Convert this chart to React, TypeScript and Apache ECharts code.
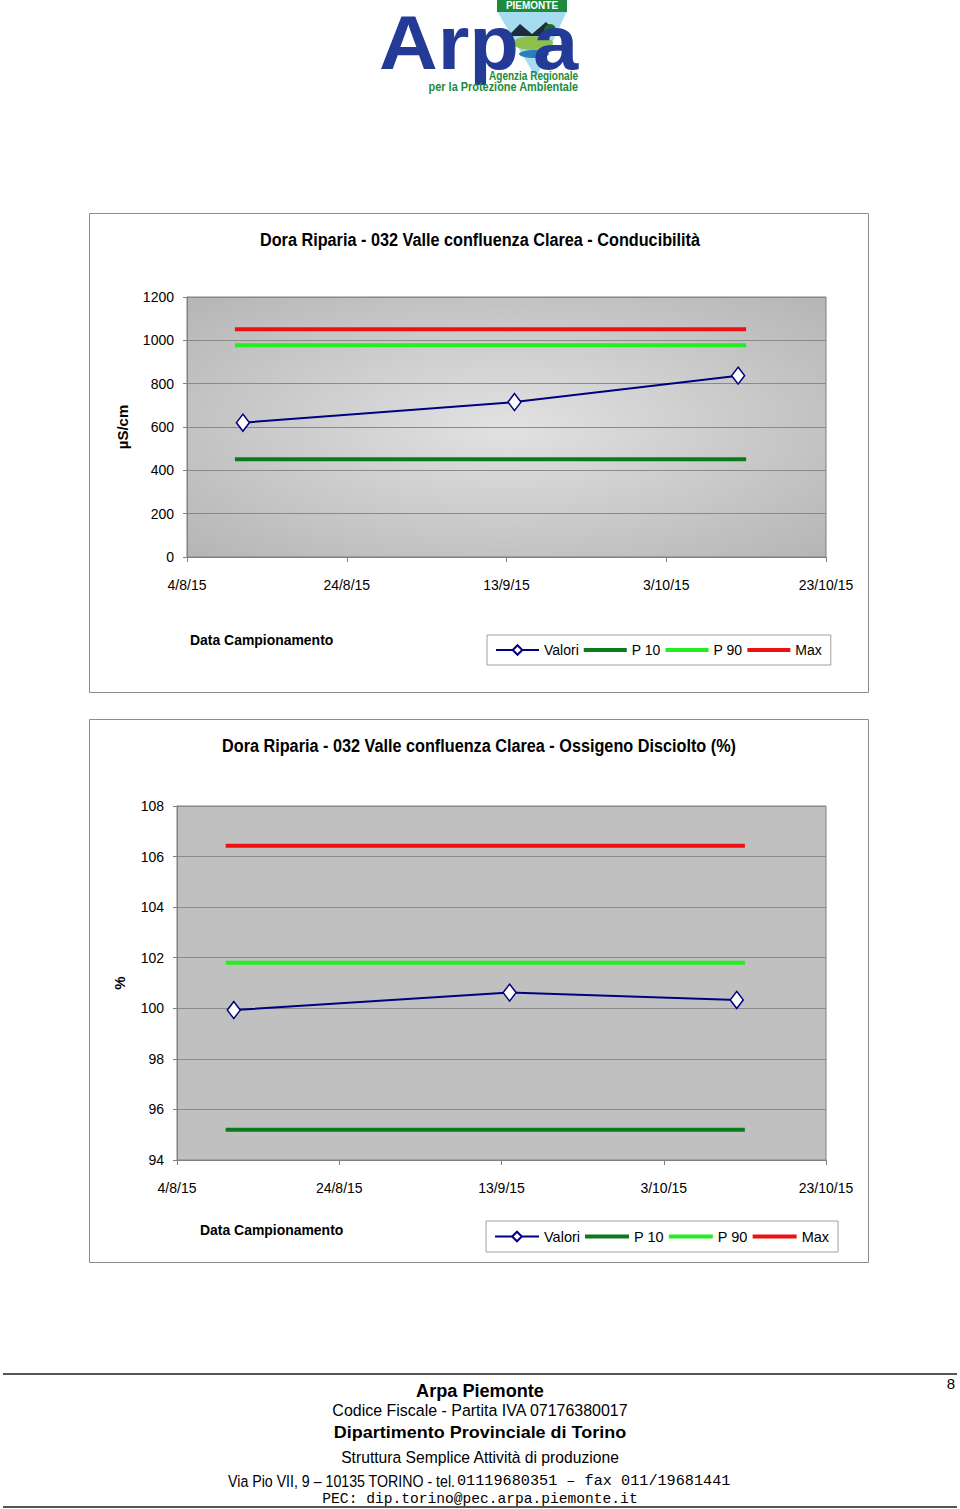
import React, { useEffect, useRef } from "react";
import * as echarts from "echarts";

// ---------- data ----------
const axisStart = "2015-08-04";
const axisEnd = "2015-10-23";
const tickDays = 20;

const sampleDates = ["2015-08-11", "2015-09-14", "2015-10-12"];
const refDates = ["2015-08-10", "2015-10-13"];

const condTitle = "Dora Riparia - 032 Valle confluenza Clarea - Conducibilità";
const condUnit = "µS/cm";
const condValori = [620, 715, 837];
const condP10 = 451;
const condP90 = 977;
const condMax = 1051;
const condYTicks = { min: 0, max: 1200, step: 200 };

const oxTitle = "Dora Riparia - 032 Valle confluenza Clarea - Ossigeno Disciolto (%)";
const oxUnit = "%";
const oxValori = [99.93, 100.62, 100.33];
const oxP10 = 95.2;
const oxP90 = 101.8;
const oxMax = 106.43;
const oxYTicks = { min: 94, max: 108, step: 2 };

const legendNames = ["Valori", "P 10", "P 90", "Max"];
const xAxisName = "Data Campionamento";

const footerLines = [
  "Arpa Piemonte",
  "Codice Fiscale - Partita IVA 07176380017",
  "Dipartimento Provinciale di Torino",
  "Struttura Semplice Attività di produzione",
];
const footerAddrA = "Via Pio VII, 9 – 10135 TORINO - tel.";
const footerAddrB = "01119680351 – fax 011/19681441";
const footerPec = "PEC: dip.torino@pec.arpa.piemonte.it";
const pageNumber = "8";

// ---------- helpers ----------
const DAY = 86400000;
const startMs = Date.parse(axisStart + "T00:00:00Z");
const dayOffset = (d: string) => (Date.parse(d + "T00:00:00Z") - startMs) / DAY;
const fmtDate = (v: number) => {
  const dt = new Date(startMs + v * DAY);
  return `${dt.getUTCDate()}/${dt.getUTCMonth() + 1}/${String(dt.getUTCFullYear()).slice(2)}`;
};

const SANS = "'Liberation Sans', Arial, sans-serif";
const MONO = "'Liberation Mono', 'DejaVu Sans Mono', monospace";

const NAVY = "#000080";
const DKGREEN = "#0c7a1c";
const LTGREEN = "#22ee22";
const RED = "#ee1111";

function buildSeries(idx: number, valori: number[], p10: number, p90: number, max: number) {
  const ref = (v: number) => refDates.map((d) => [dayOffset(d), v]);
  const refSeries = (name: string, color: string, v: number) => ({
    name,
    type: "line",
    xAxisIndex: idx,
    yAxisIndex: idx,
    data: ref(v),
    symbol: "none",
    color,
    lineStyle: { color, width: 4 },
    z: 2,
  });
  return [
    {
      name: "Valori",
      type: "line",
      xAxisIndex: idx,
      yAxisIndex: idx,
      data: sampleDates.map((d, i) => [dayOffset(d), valori[i]]),
      symbol: "diamond",
      symbolSize: [13, 17],
      showAllSymbol: true,
      color: NAVY,
      lineStyle: { color: NAVY, width: 2 },
      itemStyle: { color: "#ffffff", borderColor: NAVY, borderWidth: 1.5 },
      z: 5,
    },
    refSeries("P 10", DKGREEN, p10),
    refSeries("P 90", LTGREEN, p90),
    refSeries("Max", RED, max),
  ];
}

function xAxisCfg(idx: number) {
  return {
    type: "value",
    gridIndex: idx,
    min: 0,
    max: dayOffset(axisEnd),
    interval: tickDays,
    axisLine: { show: true, lineStyle: { color: "#808080", width: 1 } },
    axisTick: { show: true, length: 5, lineStyle: { color: "#808080" } },
    splitLine: { show: false },
    axisLabel: {
      margin: 21,
      color: "#000",
      fontSize: 14,
      fontFamily: SANS,
      formatter: (v: number) => fmtDate(v),
      showMinLabel: true,
      showMaxLabel: true,
    },
  };
}

function yAxisCfg(idx: number, t: { min: number; max: number; step: number }, name: string, gap: number) {
  return {
    type: "value",
    gridIndex: idx,
    min: t.min,
    max: t.max,
    interval: t.step,
    name,
    nameLocation: "middle",
    nameGap: gap,
    nameRotate: 90,
    nameTextStyle: { color: "#000", fontSize: 15, fontWeight: "bold", fontFamily: SANS },
    axisLine: { show: true, lineStyle: { color: "#808080", width: 1 } },
    axisTick: { show: true, length: 4, lineStyle: { color: "#808080" } },
    splitLine: { show: true, lineStyle: { color: "#8a8a8a", width: 1 } },
    axisLabel: {
      margin: 13,
      color: "#000",
      fontSize: 14,
      fontFamily: SANS,
      formatter: (v: number) => String(v),
    },
  };
}

const barIcon = "path://M0,0H44V4H0Z";

function legendCfg(left: number, top: number, fontSize: number, itemWidth: number) {
  return {
    left,
    top,
    orient: "horizontal",
    data: legendNames.map((n) => (n === "Valori" ? { name: n } : { name: n, icon: barIcon })),
    itemWidth,
    itemHeight: 12,
    itemGap: 5,
    padding: [8, 9, 8, 8],
    borderColor: "#a0a0a0",
    borderWidth: 1,
    backgroundColor: "#ffffff",
    selectedMode: false,
    textStyle: { color: "#000", fontSize, fontFamily: SANS },
  };
}

function txt(text: string, x: number, y: number, font: any, extra: any = {}, scaleX = 1) {
  return {
    type: "text",
    x,
    y,
    scaleX,
    silent: true,
    style: {
      text,
      fill: "#000",
      textAlign: "center",
      textVerticalAlign: "middle",
      ...font,
      ...extra,
    },
  };
}

export default function App() {
  const ref = useRef<HTMLDivElement>(null);

  useEffect(() => {
    if (!ref.current) return;
    const chart = echarts.init(ref.current, undefined, { renderer: "svg" });

    const bg1 = new echarts.graphic.RadialGradient(0.5, 0.5, 0.75, [
      { offset: 0, color: "#e2e2e2" },
      { offset: 1, color: "#b2b2b2" },
    ]);

    const bold = (fs: number) => ({ fontSize: fs, fontWeight: "bold", fontFamily: SANS });
    const reg = (fs: number) => ({ fontSize: fs, fontFamily: SANS });

    const graphics: any[] = [
      // chart frames
      { type: "rect", shape: { x: 89.5, y: 213.5, width: 779, height: 479 }, style: { fill: "none", stroke: "#8c8c8c", lineWidth: 1 }, silent: true },
      { type: "rect", shape: { x: 89.5, y: 719.5, width: 779, height: 543 }, style: { fill: "none", stroke: "#8c8c8c", lineWidth: 1 }, silent: true },
      // titles
      txt(condTitle, 480, 240, bold(19), {}, 0.855),
      txt(oxTitle, 479, 746, bold(19), {}, 0.855),
      // x axis names
      txt(xAxisName, 190, 640, bold(15.5), { textAlign: "left" }, 0.9),
      txt(xAxisName, 200, 1230, bold(15.5), { textAlign: "left" }, 0.9),
      // ---- logo ----
      { type: "polygon", shape: { points: [[497, 11], [567, 11], [536, 78]] }, style: { fill: "#a6dcef" }, silent: true },
      { type: "polygon", shape: { points: [[508, 36], [520, 24], [532, 34], [546, 22], [560, 36]] }, style: { fill: "#1c2c3c" }, silent: true },
      { type: "ellipse", shape: { cx: 533, cy: 43, rx: 20, ry: 7 }, style: { fill: "#8cc04a" }, silent: true },
      { type: "circle", shape: { cx: 550, cy: 30, r: 6 }, style: { fill: "#1e6a2a" }, silent: true },
      { type: "ellipse", shape: { cx: 534, cy: 54, rx: 15, ry: 4 }, style: { fill: "#2a7fb8" }, silent: true },
      { type: "rect", shape: { x: 497, y: 0, width: 70, height: 12 }, style: { fill: "#1f8a3c" }, silent: true },
      txt("PIEMONTE", 532, 5.5, { fontSize: 10, fontWeight: "bold", fontFamily: SANS, lineHeight: 10 }, { fill: "#ffffff" }),
      txt("Arp", 379, 43, { fontSize: 76, fontWeight: 900, fontFamily: SANS, lineHeight: 50 }, { fill: "#233a97", textAlign: "left" }, 1.07),
      txt("a", 533, 43, { fontSize: 76, fontWeight: 900, fontFamily: SANS, lineHeight: 50 }, { fill: "#233a97", textAlign: "left" }, 1.07),
      txt("Agenzia Regionale", 578, 75, { fontSize: 13, fontWeight: "bold", fontFamily: SANS, lineHeight: 12 }, { fill: "#238a3a", textAlign: "right" }, 0.77),
      txt("per la Protezione Ambientale", 578, 87, { fontSize: 13, fontWeight: "bold", fontFamily: SANS, lineHeight: 12 }, { fill: "#238a3a", textAlign: "right" }, 0.84),
      // ---- footer ----
      { type: "line", shape: { x1: 3, y1: 1374, x2: 957, y2: 1374 }, style: { stroke: "#555", lineWidth: 2 }, silent: true },
      { type: "line", shape: { x1: 3, y1: 1507, x2: 957, y2: 1507 }, style: { stroke: "#555", lineWidth: 2 }, silent: true },
      txt(pageNumber, 951, 1383, reg(15)),
      txt(footerLines[0], 480, 1390, bold(18.5), {}, 0.98),
      txt(footerLines[1], 480, 1410, reg(17), {}, 0.94),
      txt(footerLines[2], 480, 1432, bold(16.5), {}, 1.09),
      txt(footerLines[3], 480, 1457, reg(16.5), {}, 0.95),
      txt(footerAddrA, 455, 1481, reg(16.5), { textAlign: "right" }, 0.86),
      txt(footerAddrB, 457, 1481, { fontSize: 15.2, fontFamily: MONO }, { textAlign: "left" }),
      txt(footerPec, 480, 1499, { fontSize: 14.6, fontFamily: MONO }),
    ];

    chart.setOption({
      animation: false,
      backgroundColor: "#ffffff",
      legend: [legendCfg(487, 635, 14, 43), legendCfg(486, 1221, 14.5, 44)],
      grid: [
        { left: 187, top: 297, width: 639, height: 260, show: true, backgroundColor: bg1, borderColor: "#808080", borderWidth: 1 },
        { left: 177, top: 806, width: 649, height: 354, show: true, backgroundColor: "#c0c0c0", borderColor: "#808080", borderWidth: 1 },
      ],
      xAxis: [xAxisCfg(0), xAxisCfg(1)],
      yAxis: [yAxisCfg(0, condYTicks, condUnit, 57), yAxisCfg(1, oxYTicks, oxUnit, 50)],
      series: [
        ...buildSeries(0, condValori, condP10, condP90, condMax),
        ...buildSeries(1, oxValori, oxP10, oxP90, oxMax),
      ],
      graphic: graphics,
    });

    return () => chart.dispose();
  }, []);

  return (
    <div
      ref={ref}
      style={{ position: "absolute", left: 0, top: 0, width: 960, height: 1509, background: "#fff" }}
    />
  );
}
